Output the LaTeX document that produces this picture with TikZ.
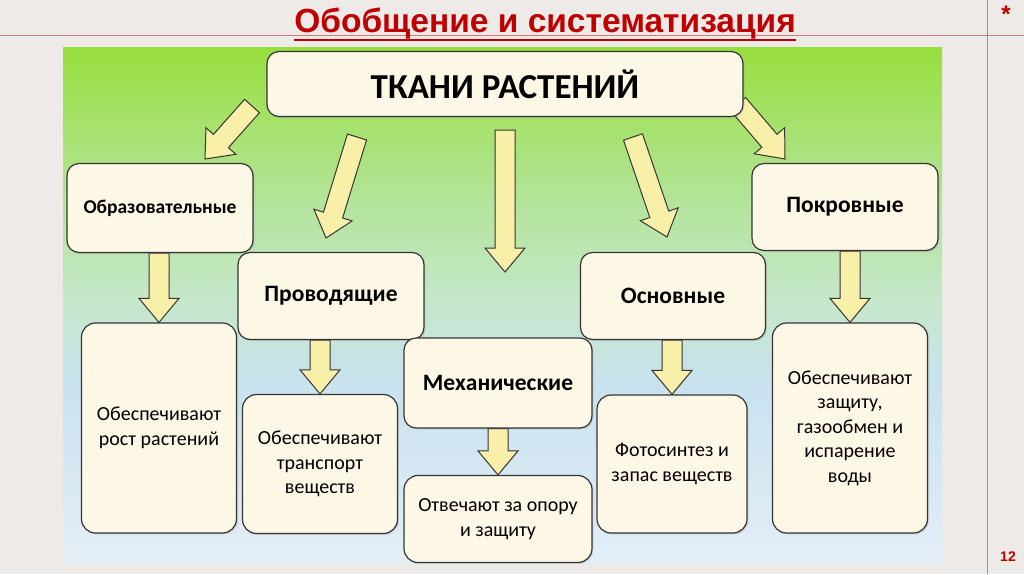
\documentclass[tikz,border=0pt]{standalone}
\usepackage{fontspec}
\setmainfont{Carlito}
\newfontfamily\titlefont{Liberation Sans}
\usepackage{tikz}
\usetikzlibrary{calc,backgrounds,shadows}
\pgfdeclarelayer{arrowlayer}
\pgfsetlayers{background,arrowlayer,main}
\definecolor{slide}{HTML}{EEEAE7}
\definecolor{titlered}{HTML}{C00000}
\definecolor{guide}{HTML}{D27A7A}
\definecolor{boxfill}{HTML}{FDF7E6}
\definecolor{boxline}{HTML}{353535}
\definecolor{arrowfill}{HTML}{F8EFA8}
\definecolor{panelA}{HTML}{E4EEF7}
\definecolor{panelB}{HTML}{C8E2EE}
\definecolor{panelC}{HTML}{C6E7CC}
\definecolor{panelD}{HTML}{B3E49A}
\definecolor{panelE}{HTML}{98DF3E}
\pgfdeclareverticalshading{panelshade}{100bp}{%
  color(0bp)=(panelA); color(25bp)=(panelA); color(42.5bp)=(panelB); color(50bp)=(panelC);
  color(60bp)=(panelD); color(75bp)=(panelE); color(100bp)=(panelE)}

\tikzset{
  tissue/.style={draw=boxline, fill=boxfill, line width=1.2pt, rounded corners=12pt,
    align=center, inner sep=2pt, font=\fontsize{23.5}{28}\selectfont\bfseries,
    drop shadow={opacity=0.2, shadow xshift=1.5pt, shadow yshift=-1.5pt}},
  role/.style={tissue, rounded corners=14pt, font=\fontsize{20}{24.5}\selectfont},
  arrowbody/.style={draw=boxline, fill=arrowfill, line width=1pt, line join=miter},
}

% block arrow from #1 (tail) to #2 (tip)
\newcommand{\fatarrow}[2]{%
  \coordinate (hb) at ($(#2)!24pt!(#1)$);
  \draw[arrowbody] ($(#1)!10pt!90:(#2)$) -- ($(hb)!10pt!90:(#2)$) -- ($(hb)!20pt!90:(#2)$) -- (#2)
    -- ($(hb)!20pt!-90:(#2)$) -- ($(hb)!10pt!-90:(#2)$) -- ($(#1)!10pt!-90:(#2)$) -- cycle;}

\begin{document}
\begin{tikzpicture}[x=1pt,y=-1pt]
  \useasboundingbox (0,0) rectangle (1024,574);
  % slide and panel
  \begin{pgfonlayer}{background}
    \fill[slide] (0,0) rectangle (1024,574);
    \shade[shading=panelshade] (63,47) rectangle (942,563);
  \end{pgfonlayer}
  % slide guides
  \draw[guide,line width=0.8pt] (0,35) -- (1024,35);
  \draw[guide,line width=0.8pt] (987,0) -- (987,574);
  \node[text=titlered,font=\fontsize{24}{24}\selectfont\titlefont\bfseries] (star) at (1006,14) {*};
  \node[text=titlered,font=\fontsize{14}{14}\selectfont\titlefont\bfseries] (pageno) at (1008,557) {12};

  % title
  \node[anchor=base,inner sep=0pt,text=titlered,font=\fontsize{33.5}{34}\selectfont\titlefont\bfseries]
    (title) at (545,32) {Обобщение и систематизация};
  \draw[titlered,line width=2.8pt] ($(title.base west)+(0,8)$) -- ($(title.base east)+(0,8)$);

  % boxes
  \node[tissue,minimum width=476pt,minimum height=65pt,font=\fontsize{35}{35}\selectfont\bfseries]
    (plant) at (505,84) {ТКАНИ РАСТЕНИЙ};
  \node[tissue,minimum width=186pt,minimum height=89pt,font=\fontsize{19.5}{24}\selectfont\bfseries]
    (obr) at (160,208) {Образовательные};
  \node[tissue,minimum width=186pt,minimum height=87pt] (prov) at (331,296) {Проводящие};
  \node[tissue,minimum width=188pt,minimum height=90pt] (mech) at (498,383) {Механические};
  \node[tissue,minimum width=185pt,minimum height=87pt] (osn) at (673,296) {Основные};
  \node[tissue,minimum width=186pt,minimum height=87pt] (pokr) at (845,207) {Покровные};

  \node[role,minimum width=155pt,minimum height=210pt] (dobr) at (159,428) {Обеспечивают\\рост растений};
  \node[role,minimum width=155pt,minimum height=139pt] (dprov) at (320,464) {Обеспечивают\\транспорт\\веществ};
  \node[role,minimum width=188pt,minimum height=87pt] (dmech) at (498,519) {Отвечают за опору\\и защиту};
  \node[role,minimum width=150pt,minimum height=138pt] (dosn) at (672,464) {Фотосинтез и\\запас веществ};
  \node[role,minimum width=155pt,minimum height=210pt] (dpokr) at (850,428) {Обеспечивают\\защиту,\\газообмен и\\испарение\\воды};

  % arrow ends
  \coordinate (t1) at (252,106);
  \coordinate (h1) at (205,159);
  \coordinate (t2) at (357,137);
  \coordinate (h2) at (326,238);
  \coordinate (t3) at (505,130);
  \coordinate (h3) at (505,272);
  \coordinate (t4) at (633,137);
  \coordinate (h4) at (667,237);
  \coordinate (t5) at (738,104);
  \coordinate (h5) at (785,159);
  \coordinate (t6) at (dobr.north |- obr.south);
  \coordinate (t7) at (dprov.north |- prov.south);
  \coordinate (t8) at (dmech.north |- mech.south);
  \coordinate (t9) at (dosn.north |- osn.south);
  \coordinate (t10) at (dpokr.north |- pokr.south);

  % arrows
  \begin{pgfonlayer}{arrowlayer}
    \fatarrow{t1}{h1}
    \fatarrow{t2}{h2}
    \fatarrow{t3}{h3}
    \fatarrow{t4}{h4}
    \fatarrow{t5}{h5}
    \fatarrow{t6}{dobr.north}
    \fatarrow{t7}{dprov.north}
    \fatarrow{t8}{dmech.north}
    \fatarrow{t9}{dosn.north}
    \fatarrow{t10}{dpokr.north}
  \end{pgfonlayer}
\end{tikzpicture}
\end{document}
